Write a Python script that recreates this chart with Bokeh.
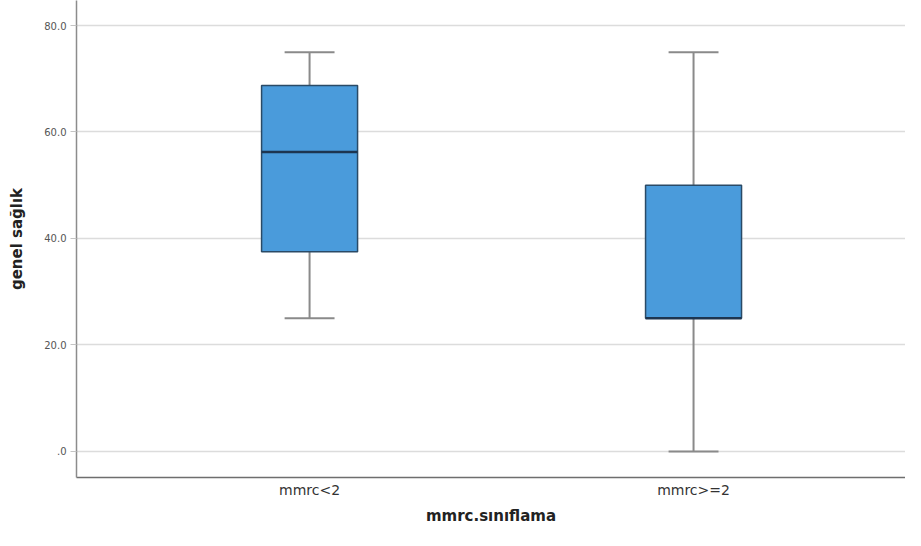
from bokeh.plotting import figure
from bokeh.models import Range1d, FixedTicker, ColumnDataSource
from bokeh.embed import file_html
from bokeh.resources import INLINE

categories = ["mmrc<2", "mmrc>=2"]
positions = [1, 2]
lower_whisker = [25.0, 0.0]
q1 = [37.5, 25.0]
median = [56.25, 25.0]
q3 = [68.75, 50.0]
upper_whisker = [75.0, 75.0]
y_ticks = [0, 20, 40, 60, 80]
y_tick_labels = [".0", "20.0", "40.0", "60.0", "80.0"]

box_w = 0.25
cap_w = 0.13

src = ColumnDataSource(dict(x=positions, lw=lower_whisker, q1=q1, med=median, q3=q3, uw=upper_whisker,
                            x0=[p - box_w / 2 for p in positions], x1=[p + box_w / 2 for p in positions],
                            c0=[p - cap_w / 2 for p in positions], c1=[p + cap_w / 2 for p in positions]))

p = figure(width=905, height=530, output_backend="svg", toolbar_location=None,
           x_range=Range1d(0.393, 2.552), y_range=Range1d(-4.9, 84.7),
           min_border_left=76, min_border_right=0, min_border_top=0, min_border_bottom=53)
p.outline_line_color = None
p.background_fill_color = "white"

# whiskers
p.segment(x0="x", y0="q3", x1="x", y1="uw", source=src, line_color="#8a8a8a", line_width=2)
p.segment(x0="x", y0="lw", x1="x", y1="q1", source=src, line_color="#8a8a8a", line_width=2)
p.segment(x0="c0", y0="uw", x1="c1", y1="uw", source=src, line_color="#8a8a8a", line_width=2)
p.segment(x0="c0", y0="lw", x1="c1", y1="lw", source=src, line_color="#8a8a8a", line_width=2)
# boxes
p.quad(left="x0", right="x1", bottom="q1", top="q3", source=src,
       fill_color="#4a9bdb", line_color="#2a4a66", line_width=1.5)
# medians
p.segment(x0="x0", y0="med", x1="x1", y1="med", source=src, line_color="#1d3550", line_width=2.5)

p.xaxis.ticker = FixedTicker(ticks=positions)
p.xaxis.major_label_overrides = {pos: c for pos, c in zip(positions, categories)}
p.yaxis.ticker = FixedTicker(ticks=y_ticks)
p.yaxis.major_label_overrides = {t: l for t, l in zip(y_ticks, y_tick_labels)}

p.xgrid.visible = False
p.ygrid.grid_line_color = "#dcdcdc"
p.ygrid.grid_line_width = 1.5

p.xaxis.axis_label = "mmrc.sınıflama"
p.yaxis.axis_label = "genel sağlık"
for ax in (p.xaxis[0], p.yaxis[0]):
    ax.axis_label_text_font = "DejaVu Sans"
    ax.axis_label_text_font_style = "bold"
    ax.axis_label_text_font_size = "15px"
    ax.axis_label_text_color = "#222222"
    ax.axis_line_color = "#8c8c8c"
    ax.axis_line_width = 1.5
    ax.minor_tick_line_color = None

p.xaxis.major_tick_line_color = None
p.xaxis.major_tick_out = 0
p.xaxis.major_tick_in = 0
p.xaxis.major_label_text_font = "DejaVu Sans"
p.xaxis.major_label_text_font_size = "14px"
p.xaxis.major_label_text_color = "#333333"
p.xaxis.major_label_standoff = 4
p.xaxis.axis_label_standoff = 6
p.xaxis.axis_line_color = "#6e6e6e"

p.yaxis.major_tick_line_color = "#c4c4c4"
p.yaxis.major_tick_out = 6
p.yaxis.major_tick_in = 0
p.yaxis.major_label_text_font = "DejaVu Sans"
p.yaxis.major_label_text_font_size = "10px"
p.yaxis.major_label_text_color = "#555555"
p.yaxis.major_label_standoff = 4
p.yaxis.axis_label_standoff = 15

open("out.html", "w").write(file_html(p, INLINE))
